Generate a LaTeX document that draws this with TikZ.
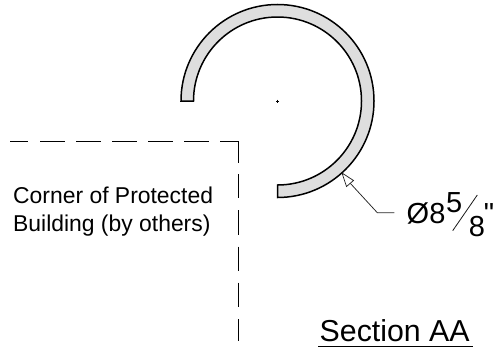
\documentclass[tikz,border=0pt]{standalone}
\usepackage{fontspec}
\setmainfont{Liberation Sans}
\newfontfamily\plainf{Liberation Sans}
\tikzset{
  pipe/.style={draw=black,fill=black!13,line width=1.5pt,line join=miter},
  wall/.style={draw=black,line width=1.45pt},
  leader/.style={draw=black!85,line width=0.75pt},
  lbl/.style={inner sep=0pt,anchor=base west,text=black},
  small/.style={lbl,font=\fontsize{22.9}{28}\selectfont},
  big/.style={lbl,font=\fontsize{29}{30}\selectfont},
}
\begin{document}
\begin{tikzpicture}[x=1pt,y=-1pt]
\useasboundingbox (0,0) rectangle (494,348);
% pipe section
\coordinate (c) at (277.5,101);
\draw[pipe] (181,101) arc[start angle=180,end angle=450,radius=96.5]
  -- (277.5,185) arc[start angle=450,end angle=180,radius=84] -- cycle;
\draw[line width=0.5pt] (276,101) -- (279,101) (277.5,99.5) -- (277.5,102.5);
% building corner
\coordinate (corner) at (238.3,141.7);
\draw[wall] (220,141.7) -- (corner) -- (238.3,163);
\foreach \a/\b in {10/28,40/65,76/101,112/137,148/173,184/209}
  \draw[wall] (\a,141.7) -- (\b,141.7);
\foreach \a/\b in {174.3/198.3,210/235,246.7/271,282.7/307,319/340.7}
  \draw[wall] (238.3,\a) -- (238.3,\b);
\node[small] (t1) at (13,203.3) {Corner of Protected};
\node[small] (t2) at (13,231.7) {Building (by others)};
% leader
\coordinate (tip) at (342,173);
\coordinate (elbow) at (377.3,212.7);
\coordinate (lend) at (394.3,212.7);
\draw[leader] (350,183) -- (elbow) -- (lend);
\draw[leader,fill=white] (tip) -- (353.5,180.5) -- (346.5,186.5) -- cycle;
% dimension
\node[big] (dia) at (406.5,223) {Ø8};
\node[big] (num) at (446,212.7) {5};
\node[big] (den) at (468.7,236) {8};
\node[big] (q) at (483.6,223.5) {\plainf "};
\draw[line width=0.8pt,black!90] (452.7,230.7) -- (477.3,195);
% title
\node[lbl,font=\fontsize{30.3}{32}\selectfont] (title) at (319.5,341) {Section AA};
\draw[line width=1.5pt] (318,346.7) -- (473,346.7);
\end{tikzpicture}
\end{document}
